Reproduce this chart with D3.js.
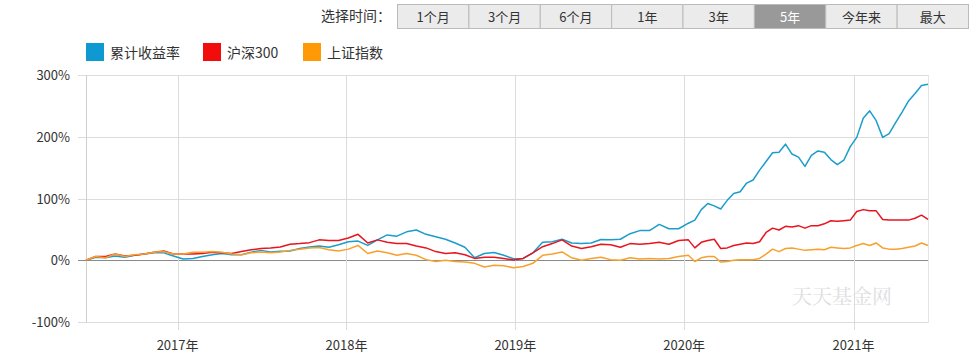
<!DOCTYPE html>
<meta charset="utf-8">
<head>
  <title>累计收益率走势</title>
</head>
<style>
body {
  margin: 0;
  background: #fff;
  font-family: "Noto Sans CJK SC", "Microsoft YaHei", sans-serif;
  color: #333;
}
svg text { font-family: "Noto Sans CJK SC", sans-serif; }
</style>
<body>
<svg id="chart" width="980" height="364"></svg>
<script src="https://cdnjs.cloudflare.com/ajax/libs/d3/7.8.5/d3.min.js"></script>
<script>
// time buttons
var periods = ["1个月", "3个月", "6个月", "1年", "3年", "5年", "今年来", "最大"];
var activePeriod = "5年";

// legend / series
var seriesNames = ["累计收益率", "沪深300", "上证指数"];
var seriesColors = ["#1b9dcc", "#e8141e", "#f7a12c"];
var legendColors = ["#0f99d2", "#f20c0c", "#ff9a06"];

var yTicks = [-100, 0, 100, 200, 300];
var yearTicks = ["2017-01-01", "2018-01-01", "2019-01-01", "2020-01-01", "2021-01-01"];

var dates = [
  "2016-06-17","2016-07-08","2016-07-29","2016-08-19","2016-09-09","2016-09-30","2016-10-21","2016-11-11","2016-12-02","2016-12-23",
  "2017-01-13","2017-02-03","2017-02-24","2017-03-17","2017-04-07","2017-04-28","2017-05-19","2017-06-09","2017-06-30","2017-07-21",
  "2017-08-11","2017-09-01","2017-09-22","2017-10-13","2017-11-03","2017-11-24","2017-12-15","2018-01-05","2018-01-26","2018-02-16",
  "2018-03-09","2018-03-30","2018-04-20","2018-05-11","2018-06-01","2018-06-22","2018-07-13","2018-08-03","2018-08-24","2018-09-14",
  "2018-10-05","2018-10-26","2018-11-16","2018-12-07","2018-12-28","2019-01-18","2019-02-08","2019-03-01","2019-03-22","2019-04-12",
  "2019-05-03","2019-05-24","2019-06-14","2019-07-05","2019-07-26","2019-08-16","2019-09-06","2019-09-27","2019-10-18","2019-11-08",
  "2019-11-29","2019-12-20","2020-01-10","2020-01-24","2020-02-07","2020-02-21","2020-03-06","2020-03-20","2020-04-03","2020-04-17",
  "2020-05-01","2020-05-15","2020-05-29","2020-06-12","2020-06-26","2020-07-10","2020-07-24","2020-08-07","2020-08-21","2020-09-04",
  "2020-09-18","2020-10-02","2020-10-16","2020-10-30","2020-11-13","2020-11-27","2020-12-11","2020-12-25","2021-01-08","2021-01-22",
  "2021-02-05","2021-02-19","2021-03-05","2021-03-19","2021-04-02","2021-04-16","2021-04-30","2021-05-14","2021-05-28","2021-06-11"
];

var fundReturn = [
  0, 5, 4, 7, 5, 8, 10, 12, 12, 7,
  2, 3, 6, 9, 11, 9, 9, 13, 16, 13.5,
  14.5, 15, 19, 21.5, 23, 21, 25, 30, 31, 24,
  33, 41, 39, 46, 49, 42, 38, 34, 28, 21,
  4, 11, 12.5, 8, 2.5, 3, 12, 29, 30, 34,
  28, 27, 28, 33.5, 33, 34, 43, 48, 48, 58,
  51, 51, 60, 65, 82, 92, 88, 83, 97, 108,
  111, 125, 130, 146, 160, 174, 175, 188, 172, 167,
  152, 170, 177, 175, 163, 155, 162, 184, 199, 230,
  242, 226, 199, 205, 223, 240, 258, 270, 283, 285
];

var hs300 = [
  0, 6, 6, 10, 7, 8, 10, 13, 15, 10,
  10, 10, 11, 13, 12, 11, 14, 17, 19, 20,
  21.5, 26, 27, 28.5, 33, 32, 32, 36, 42, 28,
  33, 29, 27, 27, 23, 20, 14, 11, 12, 9,
  3, 5, 5, 3, 0.5, 3, 12, 22, 27, 33,
  23, 19, 22, 26, 25, 21, 27, 26, 27, 29,
  26, 32, 33, 20, 29, 32, 34, 19, 20, 24,
  26, 28, 27, 30, 45, 52, 49, 55, 54, 56,
  52, 56, 56, 59, 64, 63, 64, 65, 79, 82,
  80, 80, 66, 65, 65, 65, 65, 68, 73, 66
];

var shIndex = [
  0, 6, 4, 10, 6, 9, 10, 13, 14, 10,
  10, 13, 13, 14, 13, 10, 9, 12, 13.5, 12,
  13.5, 16, 18, 20, 20.5, 17, 15, 18, 24, 11,
  15, 12, 8, 11, 8, 1, -2, 0, -2, -3,
  -5, -11, -8, -9, -12, -10, -5, 8, 10, 13.5,
  4, 0, 3, 5, 1, 0, 4, 2, 3, 2,
  3, 6, 8, -2, 4, 6, 6, -3, -2, 0,
  1, 1, 1, 3, 10, 18, 14, 19, 20, 18,
  16, 17, 18, 17, 21, 20, 19, 20, 24, 27,
  24, 28, 20, 18, 18, 19, 21, 23, 28, 24
];

var seriesValues = [fundReturn, hs300, shIndex];

var svg = d3.select("#chart");
var parse = d3.timeParse("%Y-%m-%d");

// ---- period selector ----
svg.append("text")
  .attr("x", 321).attr("y", 21)
  .style("font-size", "14px").style("fill", "#333")
  .text("选择时间：");

var btnX = d3.scaleBand().domain(periods).range([397, 968]);
var btn = svg.selectAll("g.btn").data(periods).enter().append("g")
  .attr("class", "btn")
  .attr("transform", d => "translate(" + btnX(d) + ",4)");
btn.append("rect")
  .attr("x", 0.5).attr("y", 0.5)
  .attr("width", btnX.bandwidth()).attr("height", 24)
  .attr("fill", d => d === activePeriod ? "#999" : "#ebebeb")
  .attr("stroke", "#bbb");
btn.append("text")
  .attr("x", btnX.bandwidth() / 2 + 0.5).attr("y", 17.5)
  .attr("text-anchor", "middle")
  .style("font-size", "13px")
  .style("fill", d => d === activePeriod ? "#fff" : "#333")
  .text(d => d);

// ---- legend ----
var legendX = [86, 203, 303];
var lg = svg.selectAll("g.lg").data(seriesNames).enter().append("g")
  .attr("class", "lg")
  .attr("transform", (d, i) => "translate(" + legendX[i] + ",43)");
lg.append("rect").attr("width", 18).attr("height", 18)
  .attr("fill", (d, i) => legendColors[i]);
lg.append("text").attr("x", 24).attr("y", 15)
  .style("font-size", "14px").style("fill", "#333")
  .text(d => d);

// ---- scales ----
var x = d3.scaleTime()
  .domain([parse(dates[0]), parse(dates[dates.length - 1])])
  .range([86, 928]);
var y = d3.scaleLinear().domain([-100, 300]).range([322, 75]);

// horizontal grid
svg.append("g").selectAll("line").data(yTicks).enter().append("line")
  .attr("x1", 78).attr("x2", 928)
  .attr("y1", d => Math.round(y(d)) + 0.5).attr("y2", d => Math.round(y(d)) + 0.5)
  .attr("stroke", d => d === 0 ? "#8a8a8a" : "#dcdcdc");

// vertical grid / year ticks
svg.append("g").selectAll("line").data(yearTicks).enter().append("line")
  .attr("x1", d => Math.round(x(parse(d))) + 0.5).attr("x2", d => Math.round(x(parse(d))) + 0.5)
  .attr("y1", 75).attr("y2", 330)
  .attr("stroke", "#dcdcdc");

// plot borders
svg.append("line").attr("x1", 86.5).attr("x2", 86.5).attr("y1", 75).attr("y2", 323)
  .attr("stroke", "#cfcfcf");
svg.append("line").attr("x1", 928.5).attr("x2", 928.5).attr("y1", 75).attr("y2", 323)
  .attr("stroke", "#e4e4e4");

// y labels
svg.append("g").selectAll("text").data(yTicks).enter().append("text")
  .attr("x", 70).attr("y", d => y(d) + 5)
  .attr("text-anchor", "end")
  .style("font-size", "13px").style("fill", "#333")
  .text(d => d + "%");

// x labels
svg.append("g").selectAll("text").data(yearTicks).enter().append("text")
  .attr("x", d => x(parse(d))).attr("y", 350)
  .attr("text-anchor", "middle")
  .style("font-size", "13px").style("fill", "#333")
  .text(d => d.slice(0, 4) + "年");

// watermark
svg.append("text")
  .attr("x", 792).attr("y", 304)
  .style("font-size", "20px").style("fill", "#dedede")
  .style("font-family", "'Noto Serif CJK SC', 'Noto Sans CJK SC', serif")
  .text("天天基金网");

// lines
var line = d3.line()
  .x((d, i) => x(parse(dates[i])))
  .y(d => y(d));

seriesValues.forEach(function(vals, i) {
  svg.append("path")
    .datum(vals)
    .attr("d", line)
    .attr("fill", "none")
    .attr("stroke", seriesColors[i])
    .attr("stroke-width", 1.5)
    .attr("stroke-linejoin", "round");
});
</script>
</body>
